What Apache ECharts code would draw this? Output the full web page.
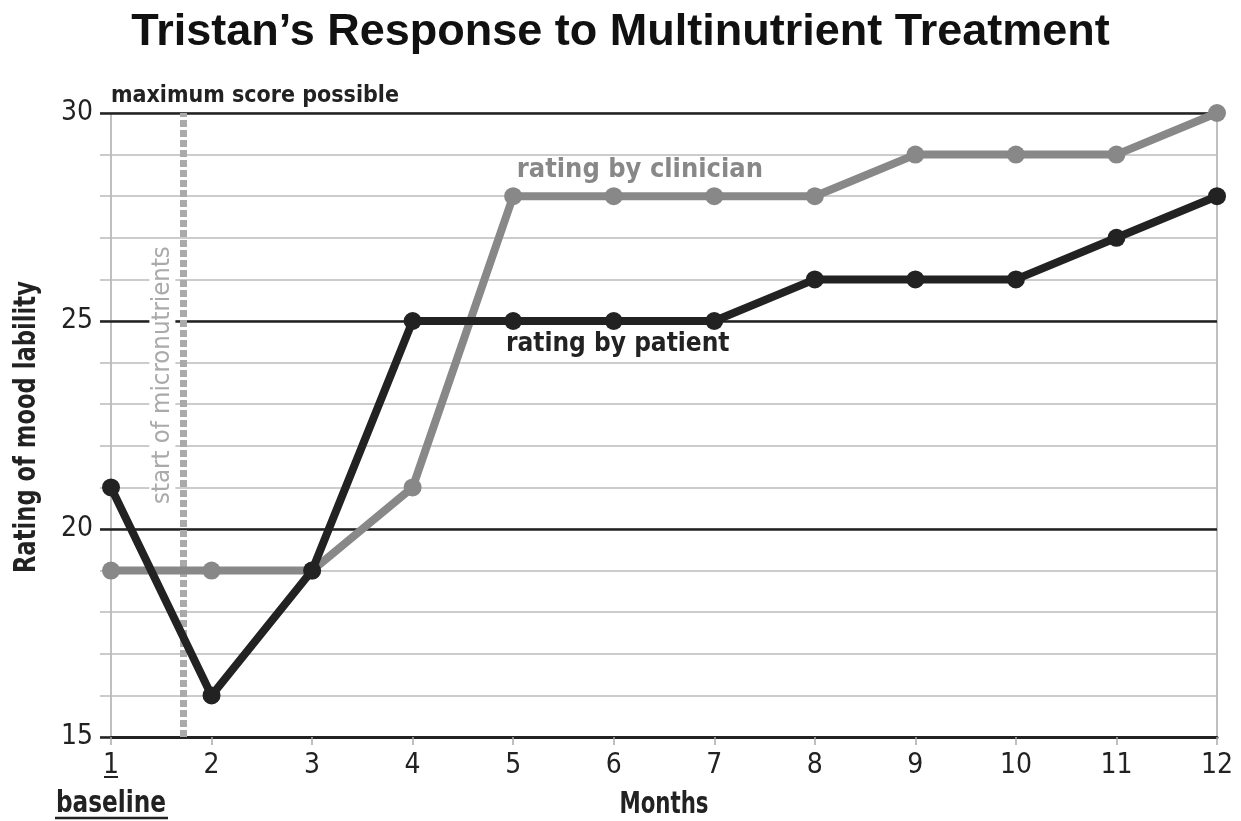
<!DOCTYPE html>
<html><head><meta charset="utf-8">
<script src="https://cdn.jsdelivr.net/npm/echarts@6/dist/echarts.min.js"></script>
<style>html,body{margin:0;padding:0;background:#fff}#c{width:1241px;height:821px}</style>
</head><body><div id="c"></div>
<script>
const months = [1,2,3,4,5,6,7,8,9,10,11,12];
const patient = [21,16,19,25,25,25,25,26,26,26,27,28];
const clinician = [19,19,19,21,28,28,28,28,29,29,29,30];
const yMin = 15, yMax = 30;
const treatmentStart = 1.72;
const titleText = 'Tristan\u2019s Response to Multinutrient Treatment';
const NARROW = "'Liberation Sans Narrow','DejaVu Sans Condensed',sans-serif";
const DARK = '#222', GREY = '#888', LIGHT = '#aaa';

const chart = echarts.init(document.getElementById('c'), null, {renderer: 'canvas'});
const pair = arr => months.map((m, i) => [m, arr[i]]);

chart.setOption({
  animation: false,
  title: {text: titleText, left: 'center', top: 5,
    textStyle: {fontFamily: "'Liberation Sans',Arial,sans-serif", fontWeight: 'bold', fontSize: 45, color: '#111'}},
  grid: {left: 111, right: 24, top: 113, bottom: 84, show: true, borderColor: LIGHT, borderWidth: 1.5,
    backgroundColor: 'transparent', outerBoundsMode: 'none', containLabel: false},
  xAxis: {type: 'value', min: 1, max: 12, interval: 1,
    axisLine: {show: true, lineStyle: {color: DARK, width: 3}},
    axisTick: {show: true, length: 8, lineStyle: {color: LIGHT, width: 1.5}},
    axisLabel: {fontFamily: NARROW, fontSize: 28, color: DARK, margin: 15},
    splitLine: {show: false}},
  yAxis: [
    {type: 'value', position: 'left', min: yMin, max: yMax, interval: 1,
      axisLine: {show: false}, axisLabel: {show: false},
      axisTick: {show: true, length: 11, lineStyle: {color: '#bbb', width: 1.5}},
      splitLine: {show: true, lineStyle: {color: '#bbb', width: 1.5}}},
    {type: 'value', position: 'left', min: yMin, max: yMax, interval: 5,
      axisLine: {show: false},
      axisLabel: {fontFamily: NARROW, fontSize: 28, color: DARK, margin: 18},
      axisTick: {show: true, length: 11, lineStyle: {color: DARK, width: 2.5}},
      splitLine: {show: true, lineStyle: {color: DARK, width: 2.5}}}
  ],
  series: [
    {name: 'start', type: 'line', data: [], z: 1,
      markLine: {silent: true, z: 1, symbol: 'none', label: {show: false},
        lineStyle: {color: LIGHT, width: 7, type: [7, 3]},
        data: [{xAxis: treatmentStart}]}},
    {name: 'clinician', type: 'line', data: pair(clinician), yAxisIndex: 0,
      symbol: 'circle', symbolSize: 18, lineStyle: {color: GREY, width: 8},
      itemStyle: {color: GREY}, z: 3},
    {name: 'patient', type: 'line', data: pair(patient), yAxisIndex: 0,
      symbol: 'circle', symbolSize: 18, lineStyle: {color: DARK, width: 8},
      itemStyle: {color: DARK}, z: 4}
  ]
});

function px(x, y) { return chart.convertToPixel({gridIndex: 0}, [x, y]); }
const pMax = px(1, yMax), pBase = px(1, yMin), pStart = px(treatmentStart, 23.7);
const pClin = px(6.26, 28.62), pPat = px(6.04, 24.45);
const pMid = px(6.5, yMin), pYMid = px(1, 22.45);
const T = {fontFamily: NARROW, fontWeight: 'bold', fill: DARK, align: 'center', verticalAlign: 'middle'};
chart.setOption({graphic: [
  {type: 'text', left: pMax[0], top: pMax[1] - 28, z: 10,
    style: {text: 'maximum score possible', fontFamily: NARROW, fontWeight: 'bold', fontSize: 23, fill: DARK}},
  {type: 'text', x: pStart[0] - 21, y: pStart[1], rotation: Math.PI / 2, z: 10,
    style: {text: 'start of micronutrients', fontFamily: NARROW, fontSize: 25.5, fill: LIGHT,
      align: 'center', verticalAlign: 'middle', backgroundColor: '#fff', padding: [0, 4]}},
  {type: 'text', x: pClin[0], y: pClin[1], z: 10,
    style: Object.assign({}, T, {text: 'rating by clinician', fontSize: 27, fill: GREY})},
  {type: 'text', x: pPat[0], y: pPat[1], z: 10,
    style: Object.assign({}, T, {text: 'rating by patient', fontSize: 26})},
  {type: 'text', x: pMid[0], y: pMid[1] + 68, scaleX: 0.79, z: 10,
    style: Object.assign({}, T, {text: 'Months', fontSize: 30})},
  {type: 'text', x: 27, y: pYMid[1], rotation: Math.PI / 2, scaleX: 0.84, z: 10,
    style: Object.assign({}, T, {text: 'Rating of mood lability', fontSize: 30})},
  {type: 'text', x: pBase[0], y: pBase[1] + 67, scaleX: 0.86, z: 10,
    style: Object.assign({}, T, {text: 'baseline', fontSize: 30})},
  {type: 'line', z: 10, shape: {x1: pBase[0] - 56, y1: pBase[1] + 81, x2: pBase[0] + 57, y2: pBase[1] + 81},
    style: {stroke: DARK, lineWidth: 2.5}},
  {type: 'line', z: 10, shape: {x1: pBase[0] - 7, y1: pBase[1] + 40, x2: pBase[0] + 7, y2: pBase[1] + 40},
    style: {stroke: DARK, lineWidth: 2}}
]});
</script></body></html>
